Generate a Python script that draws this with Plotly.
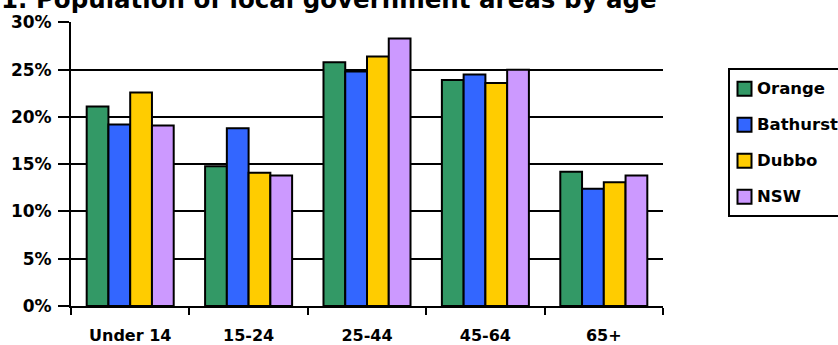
import plotly.graph_objects as go

# Share of population in each age band (%)
age_groups = ["Under 14", "15-24", "25-44", "45-64", "65+"]
orange = [21.1, 14.8, 25.8, 23.9, 14.2]
bathurst = [19.2, 18.8, 24.8, 24.5, 12.4]
dubbo = [22.6, 14.1, 26.4, 23.6, 13.1]
nsw = [19.1, 13.8, 28.3, 25.0, 13.8]

series_names = ["Orange", "Bathurst", "Dubbo", "NSW"]
series_values = [orange, bathurst, dubbo, nsw]
series_colors = ["#339966", "#3366FF", "#FFCC00", "#CC99FF"]

FONT = "DejaVu Sans, Verdana, sans-serif"

W, H = 838, 345
ML, MR, MT, MB = 71, 175, 22, 39
PW, PH = W - ML - MR, H - MT - MB


def px_x(x):
    """Horizontal pixel position -> paper coordinate."""
    return (x - ML) / PW


def px_y(y):
    """Vertical pixel position (from top) -> paper coordinate."""
    return 1 - (y - MT) / PH


fig = go.Figure()
for name, values, color in zip(series_names, series_values, series_colors):
    fig.add_trace(go.Bar(
        name=name,
        x=age_groups,
        y=values,
        showlegend=False,
        marker=dict(color=color, line=dict(color="black", width=2)),
    ))

# Boxed key on the right-hand side
shapes = [dict(
    type="rect", xref="paper", yref="paper",
    x0=px_x(729), x1=px_x(848), y0=px_y(216), y1=px_y(69),
    line=dict(color="black", width=2), fillcolor="rgba(0,0,0,0)",
)]
annotations = []
for i, (name, color) in enumerate(zip(series_names, series_colors)):
    cy = 88.8 + 36 * i
    shapes.append(dict(
        type="rect", xref="paper", yref="paper",
        x0=px_x(737.5), x1=px_x(751.5), y0=px_y(cy + 7), y1=px_y(cy - 7),
        line=dict(color="black", width=2), fillcolor=color,
    ))
    annotations.append(dict(
        text=f"<b>{name}</b>", xref="paper", yref="paper",
        x=px_x(755), y=px_y(cy), xanchor="left", yanchor="middle",
        showarrow=False,
        font=dict(family=FONT, size=16.5, color="black"),
    ))

annotations.append(dict(
    text="<b>1. Population of local government areas by age</b>",
    xref="paper", yref="paper",
    x=px_x(-1), y=1.02, xanchor="left", yanchor="bottom",
    showarrow=False,
    font=dict(family=FONT, size=24.5, color="black"),
))

fig.update_layout(
    width=W,
    height=H,
    margin=dict(l=ML, r=MR, t=MT, b=MB, autoexpand=False),
    paper_bgcolor="white",
    plot_bgcolor="white",
    barmode="group",
    bargap=0.265,
    bargroupgap=0,
    showlegend=False,
    font=dict(family=FONT, size=16, color="black"),
    shapes=shapes,
    annotations=annotations,
)

fig.update_yaxes(
    range=[0, 30.05],
    dtick=5,
    ticksuffix="%",
    showgrid=True, gridcolor="black", gridwidth=2,
    showline=True, linecolor="black", linewidth=2,
    ticks="outside", ticklen=11, tickwidth=2, tickcolor="black",
    ticklabelstandoff=3,
    tickfont=dict(family=FONT, size=17, color="black", weight="bold"),
    zeroline=False,
)
fig.update_xaxes(
    showline=True, linecolor="black", linewidth=2,
    ticks="outside", ticklen=7, tickwidth=2, tickcolor="black",
    tickson="boundaries",
    ticklabelstandoff=14,
    tickfont=dict(family=FONT, size=16, color="black", weight="bold"),
)

fig.write_html("out.html")
